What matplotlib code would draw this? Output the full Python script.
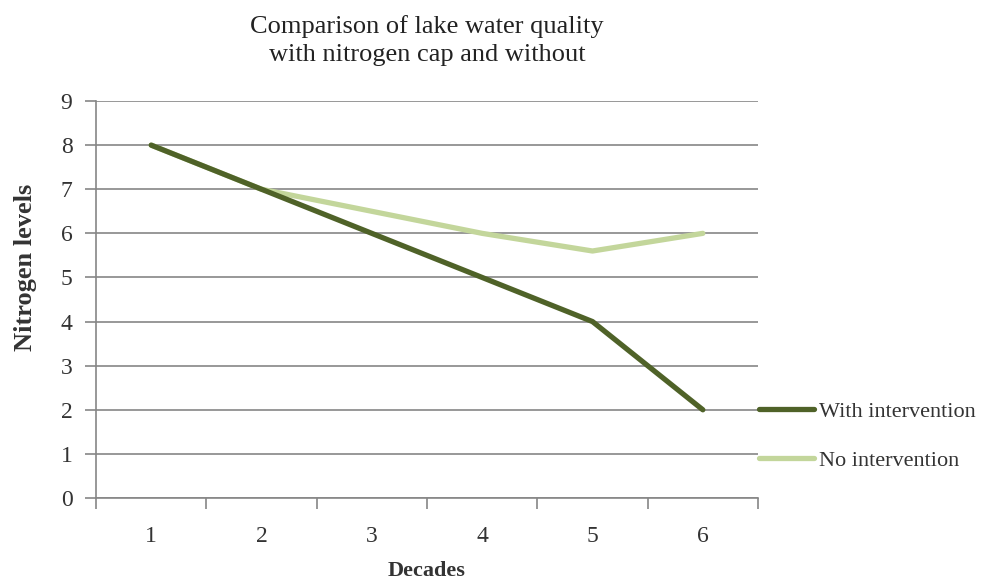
import numpy as np
import matplotlib.pyplot as plt

decades = [1, 2, 3, 4, 5, 6]
with_intervention = [8, 7, 6, 5, 4, 2]
no_intervention = [8, 7, 6.5, 6, 5.6, 6]

plt.rcParams['font.family'] = ['Liberation Serif', 'DejaVu Serif']

fig = plt.figure(figsize=(9.83, 5.85), dpi=100)
ax = fig.add_axes([0.0977, 0.1487, 0.6734, 0.6786])

x = np.arange(len(decades))
l1, = ax.plot(x, with_intervention, color='#4F6228', lw=3.8, solid_capstyle='round',
              label='With intervention', zorder=3)
l2, = ax.plot(x, no_intervention, color='#C3D69B', lw=3.8, solid_capstyle='round',
              label='No intervention', zorder=2)

ax.set_xlim(-0.5, len(decades) - 0.5)
ax.set_ylim(0, 9)
ax.set_yticks(range(10))
ax.set_xticks(x)
ax.set_xticklabels([str(d) for d in decades])
ax.set_xticks(np.arange(-0.5, len(decades)), minor=True)
ax.tick_params(axis='x', which='major', length=0, pad=20, labelsize=17, colors='#333333')
ax.tick_params(axis='x', which='minor', length=8, width=1.2, color='#868686', direction='out')
ax.tick_params(axis='y', length=8, width=1.2, color='#868686', direction='out', pad=9,
               labelsize=17, labelcolor='#333333')
ax.grid(axis='y', color='#868686', lw=1.2)
ax.set_axisbelow(True)
for s in ['top', 'right']:
    ax.spines[s].set_visible(False)
for s in ['left', 'bottom']:
    ax.spines[s].set_color('#868686')
    ax.spines[s].set_linewidth(1.2)

ax.set_xlabel('Decades', fontsize=16, fontweight='bold', color='#333333', labelpad=10)
ax.set_ylabel('Nitrogen levels', fontsize=19, fontweight='bold', color='#333333')
ax.yaxis.set_label_coords(-0.089, 0.58)
ax.set_title('Comparison of lake water quality\nwith nitrogen cap and without',
             fontsize=19, color='#222222', pad=29, linespacing=1.33)

fig.legend(handles=[l1, l2], loc='center left', bbox_to_anchor=(0.772, 0.2547),
           frameon=False, fontsize=16, handlelength=2.5, handletextpad=0.22,
           labelspacing=1.3, borderpad=0, borderaxespad=0, labelcolor='#333333')

fig.savefig('out.png', dpi=100)
